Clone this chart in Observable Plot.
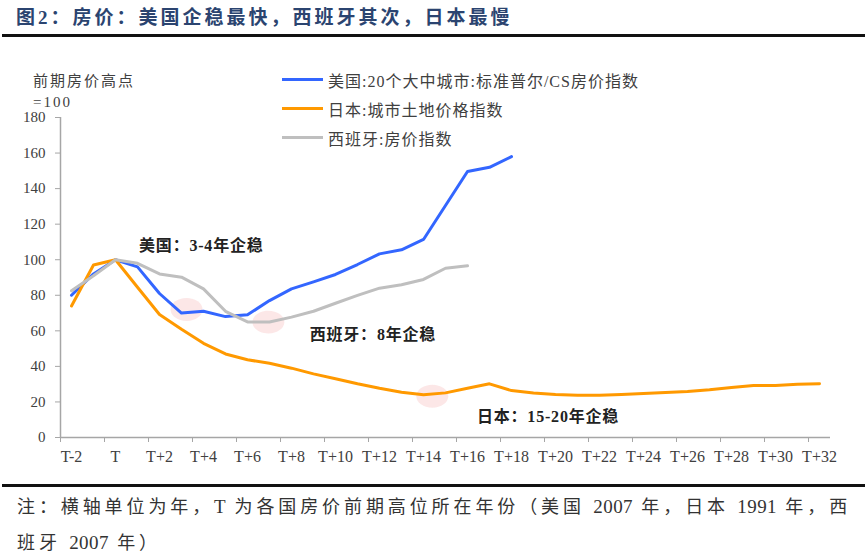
<!DOCTYPE html>
<html><head><meta charset="utf-8">
<script src="https://cdn.jsdelivr.net/npm/d3@7"></script>
<script src="https://cdn.jsdelivr.net/npm/@observablehq/plot@0.6"></script>
<style>
body{margin:0;background:#fff;width:867px;height:557px;position:relative;overflow:hidden;font-family:"Liberation Serif","Times New Roman","Tinos","DejaVu Serif","Noto Sans CJK SC",serif;}
#title{position:absolute;left:16px;top:2px;font-size:19px;font-weight:bold;color:#2b4470;letter-spacing:3px;white-space:nowrap;}
.rule{position:absolute;left:2px;right:2px;height:3px;background:#111;}
#chart{position:absolute;left:0;top:40px;}
#chart g[aria-label="text"] text{letter-spacing:0.8px;}
#ylab{position:absolute;left:33px;top:71px;font-size:15px;color:#404040;line-height:21px;letter-spacing:2px;}
#legend{position:absolute;left:282px;top:65px;}
.item{display:flex;align-items:center;height:29px;font-size:16px;color:#404040;letter-spacing:1px;white-space:nowrap;}
.swatch{width:41px;height:3px;margin-right:5px;flex:none;}
#note{position:absolute;left:17px;top:489px;font-size:18px;color:#333;line-height:35px;letter-spacing:3.9px;white-space:nowrap;}
#note .lat{font-size:19px;letter-spacing:0.4px;}
</style>
</head><body>
<div id="title">图2：房价：美国企稳最快，西班牙其次，日本最慢</div>
<div class="rule" style="top:34px"></div>
<div id="chart"></div>
<div id="ylab">前期房价高点<br>=100</div>
<div id="legend"></div>
<div class="rule" style="top:484px"></div>
<div id="note">注：横轴单位为年，<span class="lat">T</span> 为各国房价前期高位所在年份（美国 <span class="lat">2007</span> 年，日本 <span class="lat">1991</span> 年，西<br>班牙 <span class="lat">2007</span> 年）</div>
<script>
// ---- data ----
const seriesNames = ["美国:20个大中城市:标准普尔/CS房价指数", "日本:城市土地价格指数", "西班牙:房价指数"];
const seriesColors = ["#3366ff", "#ff9900", "#bfbfbf"];
const startT = -2; // first period, T-2
const usValues = [80, 92, 100, 96, 81, 70, 71, 68, 69, 77, 83.6, 87.5, 91.7, 97.3, 103.3, 105.6, 111.4, 130.5, 149.6, 152, 158];
const jpValues = [74, 97, 100, 84.5, 69.2, 60.9, 53, 47, 43.7, 41.8, 39, 35.8, 33, 30.2, 27.7, 25.5, 24, 25.1, 27.7, 30.2, 26.4, 25, 24.2, 23.8, 23.8, 24.2, 24.7, 25.3, 25.9, 26.8, 28.1, 29.2, 29.2, 30, 30.2];
const esValues = [82.5, 91, 100, 98, 92, 90.2, 83.6, 71, 65, 65, 67.7, 71, 75.5, 79.9, 84, 85.9, 88.9, 95.2, 96.6];
const xDomain = [-2.5, 32.5];
const xLabelTicks = d3.range(-2, 33, 2);
const xBoundaryTicks = d3.range(-2.5, 32, 2);
const yTicks = d3.range(0, 181, 20);
const annotations = [
  {t: 3.9, v: 107.6, label: "美国：3-4年企稳"},
  {t: 11.7, v: 57.9, label: "西班牙：8年企稳"},
  {t: 19.66, v: 11.8, label: "日本：15-20年企稳"}
];
const highlights = [
  {t: 3.23, v: 72},
  {t: 6.95, v: 64.9},
  {t: 14.4, v: 23.2}
];

// ---- build rows ----
const rows = [];
[usValues, jpValues, esValues].forEach((vals, k) => {
  vals.forEach((v, i) => rows.push({series: seriesNames[k], t: startT + i, v}));
});

const fmtT = d => d === 0 ? "T" : (d < 0 ? "T" + d : "T+" + d);

const ellipse = {draw(ctx, size) {
  const r = Math.sqrt(size / Math.PI);
  const rx = r * 1.23, ry = r * 0.88, k = 0.5523;
  ctx.moveTo(rx, 0);
  ctx.bezierCurveTo(rx, ry * k, rx * k, ry, 0, ry);
  ctx.bezierCurveTo(-rx * k, ry, -rx, ry * k, -rx, 0);
  ctx.bezierCurveTo(-rx, -ry * k, -rx * k, -ry, 0, -ry);
  ctx.bezierCurveTo(rx * k, -ry, rx, -ry * k, rx, 0);
  ctx.closePath();
}};

const axisColor = "#a6a6a6";
const textColor = "#404040";
const fontFam = '"Liberation Serif","Times New Roman","Tinos","DejaVu Serif","Noto Sans CJK SC",serif';

const chart = Plot.plot({
  width: 867,
  height: 445,
  marginLeft: 60,
  marginRight: 37,
  marginTop: 77,
  marginBottom: 48,
  style: {fontFamily: fontFam, background: "transparent", overflow: "visible"},
  x: {type: "linear", domain: xDomain},
  y: {domain: [0, 180]},
  color: {domain: seriesNames, range: seriesColors},
  marks: [
    Plot.dot(highlights, {x: "t", y: "v", r: 13, symbol: ellipse, fill: "#f9d3d3", fillOpacity: 0.55, stroke: "none"}),
    Plot.axisY({ticks: yTicks, tickSize: 5, tickPadding: 10, stroke: axisColor, fill: textColor, fontSize: 15, label: null}),
    Plot.axisX({ticks: xBoundaryTicks, tickSize: 5, tickFormat: () => "", stroke: axisColor, label: null}),
    Plot.axisX({ticks: xLabelTicks, tickSize: 0, tickPadding: 13, tickFormat: fmtT, fill: textColor, fontSize: 16, label: null}),
    Plot.ruleX([xDomain[0]], {stroke: axisColor, strokeWidth: 1.5}),
    Plot.ruleY([0], {stroke: axisColor, strokeWidth: 1.5}),
    Plot.line(rows, {x: "t", y: "v", z: "series", stroke: "series", strokeWidth: 3}),
    Plot.text(annotations, {x: "t", y: "v", text: "label", fontWeight: "bold", fontSize: 16, fill: "#222"})
  ]
});
document.getElementById("chart").appendChild(chart);

// legend
const legend = document.getElementById("legend");
seriesNames.forEach((name, k) => {
  const item = document.createElement("div");
  item.className = "item";
  const sw = document.createElement("span");
  sw.className = "swatch";
  sw.style.background = seriesColors[k];
  const tx = document.createElement("span");
  tx.textContent = name;
  item.appendChild(sw); item.appendChild(tx);
  legend.appendChild(item);
});
</script>
</body></html>
